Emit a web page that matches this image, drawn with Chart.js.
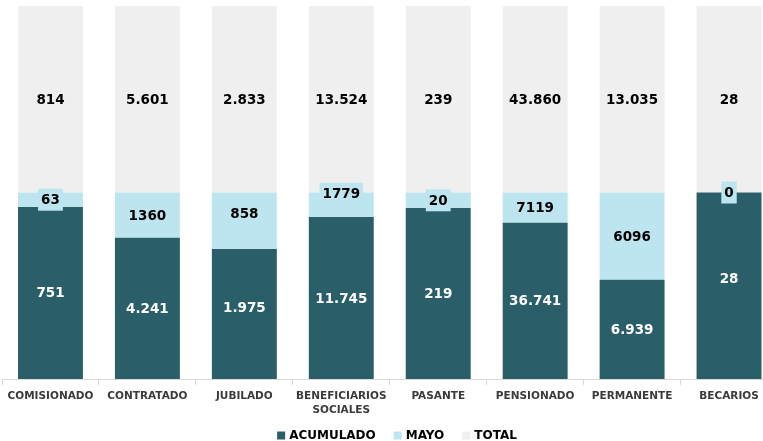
<!DOCTYPE html>
<html><head><meta charset="utf-8">
<script src="https://cdn.jsdelivr.net/npm/chart.js@4/dist/chart.umd.min.js"></script>
<style>html,body{margin:0;padding:0;background:#fff;overflow:hidden;width:763px;height:441px}</style>
</head><body>
<canvas id="c" width="794" height="441"></canvas>
<script>
const categories = ['COMISIONADO','CONTRATADO','JUBILADO',['BENEFICIARIOS','SOCIALES'],'PASANTE','PENSIONADO','PERMANENTE','BECARIOS'];
const acumulado = [751,4241,1975,11745,219,36741,6939,28];
const mayo = [63,1360,858,1779,20,7119,6096,0];
const total = [814,5601,2833,13524,239,43860,13035,28];
const seriesNames = ['ACUMULADO','MAYO','TOTAL'];
const colors = ['#2A5F69','#BDE5F0','#EFEFEF'];
const labelColors = ['#FFFFFF','#000000','#000000'];
const rawSeries = [acumulado, mayo, total];

const pct = (arr) => arr.map((v,i) => v / total[i] * 100);
const plotted = [pct(acumulado), pct(mayo), total.map(() => 100)];

const fmtDots = v => String(v).replace(/\B(?=(\d{3})+(?!\d))/g, '.');
const formatters = [fmtDots, v => String(v), fmtDots];
const FONT = 'DejaVu Sans';

const labelPlugin = {
  id: 'valueLabels',
  afterDatasetsDraw(chart, args, opts) {
    const ctx = chart.ctx;
    ctx.save();
    ctx.font = 'bold 13.5px "' + FONT + '"';
    ctx.textAlign = 'center';
    ctx.textBaseline = 'middle';
    chart.data.datasets.forEach((ds, d) => {
      const meta = chart.getDatasetMeta(d);
      meta.data.forEach((el, i) => {
        const txt = formatters[d](rawSeries[d][i]);
        const nudge = (opts.nudge[d] && opts.nudge[d][i]) || 0;
        const cx = el.x, cy = (el.y + el.base) / 2 + nudge;
        const w = ctx.measureText(txt).width + 6;
        ctx.fillStyle = colors[d];
        ctx.fillRect(cx - w/2, cy - 11, w, 22);
        ctx.fillStyle = labelColors[d];
        ctx.fillText(txt, cx, cy + 1);
      });
    });
    ctx.restore();
  }
};

const legendPlugin = {
  id: 'customLegend',
  afterDraw(chart) {
    const ctx = chart.ctx;
    ctx.save();
    ctx.font = 'bold 12px "' + FONT + '"';
    ctx.textBaseline = 'middle';
    ctx.textAlign = 'left';
    const box = 8, gapText = 4, gapItem = 18;
    const widths = seriesNames.map(n => box + gapText + ctx.measureText(n).width);
    const totalW = widths.reduce((a,b)=>a+b,0) + gapItem * (seriesNames.length - 1);
    let x = chart.width / 2 - totalW / 2;
    const y = 435.5;
    seriesNames.forEach((n, k) => {
      ctx.fillStyle = colors[k];
      ctx.fillRect(x, y - 4, box, box);
      ctx.fillStyle = '#000';
      ctx.fillText(n, x + box + gapText, y + 0.5);
      x += widths[k] + gapItem;
    });
    ctx.restore();
  }
};

new Chart(document.getElementById('c'), {
  type: 'bar',
  data: {
    labels: categories,
    datasets: seriesNames.map((n, k) => ({
      label: n,
      data: plotted[k],
      backgroundColor: colors[k],
      borderWidth: 0,
      barPercentage: 0.67,
      categoryPercentage: 1
    }))
  },
  options: {
    responsive: false,
    animation: false,
    layout: { padding: { top: 6, left: 2, right: 16.5, bottom: 20 } },
    plugins: {
      legend: { display: false },
      tooltip: { enabled: false },
      valueLabels: { nudge: { 0: { 2: -6, 7: -7 }, 1: { 2: -7, 3: -11 } } }
    },
    scales: {
      x: {
        stacked: true,
        grid: { display: true, drawOnChartArea: false, drawTicks: true, tickLength: 6, color: '#d9d9d9', offset: true },
        border: { display: true, color: '#d9d9d9' },
        ticks: { color: '#3a3a3a', font: { family: FONT, weight: 'bold', size: 10.5, lineHeight: 1.333 }, padding: 4, maxRotation: 0, autoSkip: false }
      },
      y: { stacked: true, display: false, min: 0, max: 200 }
    }
  },
  plugins: [labelPlugin, legendPlugin]
});
</script>
</body></html>
